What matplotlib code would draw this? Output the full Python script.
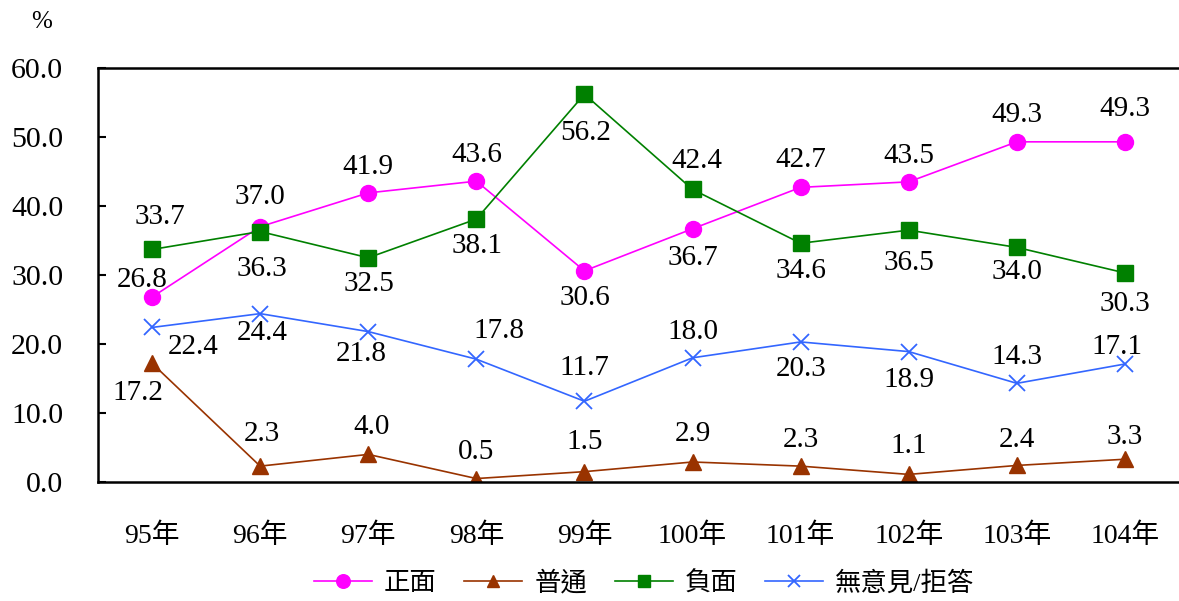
import matplotlib
matplotlib.use("Agg")
import matplotlib.pyplot as plt

plt.rcParams['font.family'] = ['Liberation Serif', 'Noto Sans CJK TC']

years = ["95年", "96年", "97年", "98年", "99年", "100年", "101年", "102年", "103年", "104年"]
positive = [26.8, 37.0, 41.9, 43.6, 30.6, 36.7, 42.7, 43.5, 49.3, 49.3]
neutral = [17.2, 2.3, 4.0, 0.5, 1.5, 2.9, 2.3, 1.1, 2.4, 3.3]
negative = [33.7, 36.3, 32.5, 38.1, 56.2, 42.4, 34.6, 36.5, 34.0, 30.3]
no_opinion = [22.4, 24.4, 21.8, 17.8, 11.7, 18.0, 20.3, 18.9, 14.3, 17.1]
series_names = ["正面", "普通", "負面", "無意見/拒答"]

# label offsets in pixels (dx, dy; dy positive = up)
off_pos = [(-10, 17), (0, 30), (0, 26), (0, 26), (0, -27), (0, -29), (0, 27), (0, 26), (0, 27), (0, 33)]
off_neu = [(-14, -30), (2, 32), (3, 27), (0, 27), (0, 30), (0, 28), (0, 26), (0, 28), (0, 25), (0, 22)]
off_neg = [(8, 32), (2, -37), (1, -26), (1, -27), (1, -39), (4, 28), (0, -28), (0, -33), (0, -25), (0, -31)]
off_no = [(41, -20), (2, -19), (-7, -22), (23, 28), (0, 33), (0, 26), (0, -27), (0, -28), (0, 26), (-8, 17)]

W, H = 1179, 601
fig = plt.figure(figsize=(W / 100, H / 100), dpi=100)
ax = fig.add_axes([98 / W, 1 - 482 / H, (1179 - 98) / W, (482 - 68) / H])

x = list(range(len(years)))
specs = [
    (positive, "#FF00FF", "o", 11.5, off_pos),
    (neutral, "#993300", "^", 11, off_neu),
    (negative, "#008000", "s", 11, off_neg),
    (no_opinion, "#3366FF", "x", 11, off_no),
]
handles = []
for (vals, col, mk, ms, offs), name in zip(specs, series_names):
    kw = dict(color=col, marker=mk, markersize=ms, linewidth=1.2, label=name)
    if mk == "x":
        kw["markeredgewidth"] = 1.3
    h, = ax.plot(x, vals, **kw)
    handles.append(h)
    for xi, v, (dx, dy) in zip(x, vals, offs):
        ax.annotate(f"{v:.1f}", (xi, v), xytext=(dx * 0.72, dy * 0.72),
                    textcoords="offset points", ha="center", va="center",
                    fontsize=21, color="black")

ax.set_xlim(-0.5, 9.5)
ax.set_ylim(0, 60)
ax.set_yticks([0, 10, 20, 30, 40, 50, 60])
ax.set_yticklabels([f"{v:.1f}" for v in [0, 10, 20, 30, 40, 50, 60]])
ax.set_xticks(x)
ax.set_xticklabels(years)
ax.tick_params(axis='y', direction='in', length=6, width=1.5, labelsize=21.5, pad=25)
ax.tick_params(axis='x', length=0, labelsize=20, pad=30)
for s in ["left", "top", "bottom"]:
    ax.spines[s].set_linewidth(1.8)
ax.spines["right"].set_visible(False)

fig.text(42 / W, 1 - 22 / H, "%", ha="center", va="center", fontsize=18)

fig.legend(handles=handles, labels=series_names, loc="center",
           bbox_to_anchor=(644 / W, 1 - 583 / H), ncol=4, frameon=False,
           prop={'size': 19}, handlelength=2.2, handletextpad=0.45, columnspacing=1.05,
           markerscale=0.85)

fig.savefig("out.png", dpi=100)
